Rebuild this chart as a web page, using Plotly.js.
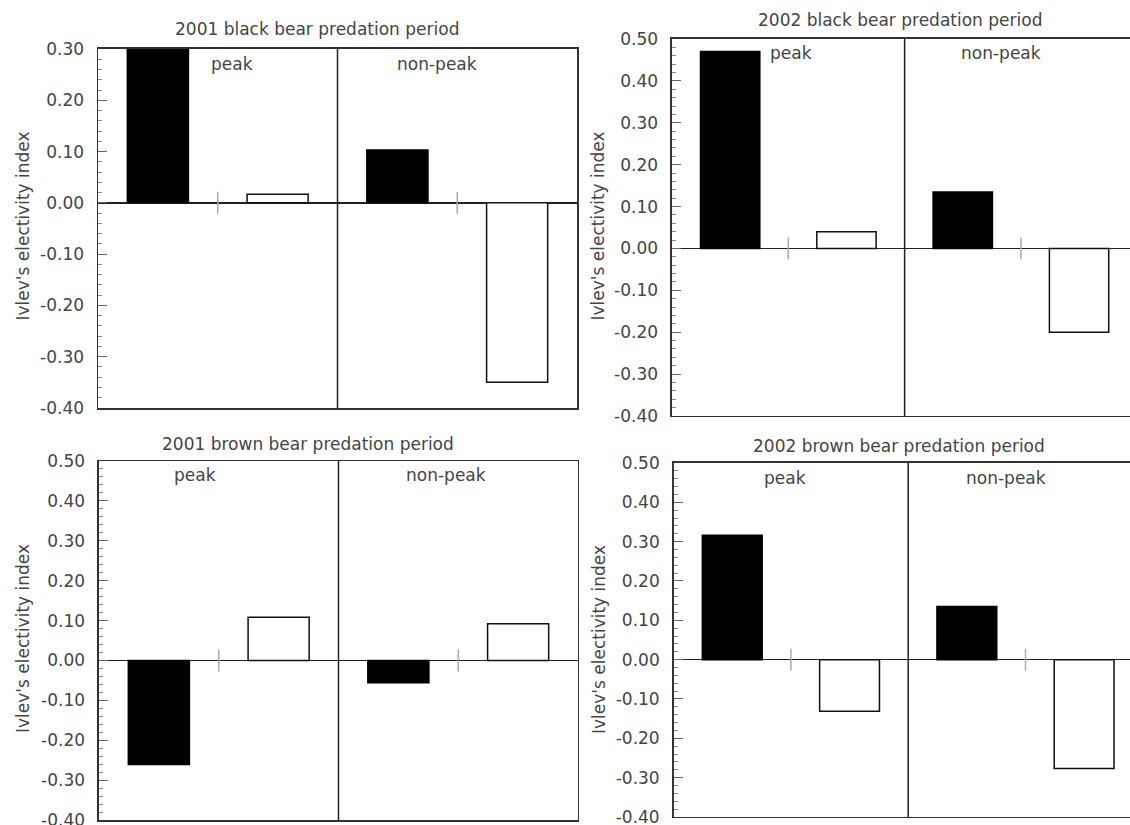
<!DOCTYPE html>
<html>
<head>
<meta charset="utf-8">
<script src="https://cdn.plot.ly/plotly-3.0.1.min.js"></script>
<style>html,body{margin:0;padding:0;background:#fff;}#chart{width:1130px;height:825px;}</style>
</head>
<body>
<div id="chart"></div>
<script>
// ---- data ----
const panelTitles = [
  "2001 black bear predation period",
  "2002 black bear predation period",
  "2001 brown bear predation period",
  "2002 brown bear predation period"
];
const yAxisTitle = "Ivlev's electivity index";
const periodLabels = ["peak", "non-peak"];
// bar positions: black bar and white bar in each period (peak, non-peak)
const blackX = [0.5, 2.5];
const whiteX = [1.5, 3.5];
// values [peak, non-peak]
const black2001Black = [0.30, 0.103];
const white2001Black = [0.017, -0.350];
const black2002Black = [0.470, 0.135];
const white2002Black = [0.040, -0.200];
const black2001Brown = [-0.261, -0.056];
const white2001Brown = [0.108, 0.092];
const black2002Brown = [0.316, 0.135];
const white2002Brown = [-0.131, -0.277];

const yTicksA = [-0.4, -0.3, -0.2, -0.1, 0, 0.1, 0.2, 0.3];
const yTickTextA = ["-0.40", "-0.30", "-0.20", "-0.10", "0.00", "0.10", "0.20", "0.30"];
const yTicksB = [-0.4, -0.3, -0.2, -0.1, 0, 0.1, 0.2, 0.3, 0.4, 0.5];
const yTickTextB = ["-0.40", "-0.30", "-0.20", "-0.10", "0.00", "0.10", "0.20", "0.30", "0.40", "0.50"];
const periodDividers = [2];
const zeroTicks = [1, 3];

// ---- build ----
const FONT = "DejaVu Sans, Liberation Sans, Arial, sans-serif";
const TXT = "#444";
const panels = [
  {b: black2001Black, w: white2001Black, xr: [0, 4], yr: [-0.4, 0.3], tv: yTicksA, tt: yTickTextA,
   xd: [0.08673, 0.51062], yd: [0.50545, 0.94061], mirrorY: true,
   title: [0.2801, 0.9648], ytitle: [0.0204, 0.7255], lab: [1.12, 2.835], labY: 0.958},
  {b: black2002Black, w: white2002Black, xr: [0, 3.938], yr: [-0.4, 0.5], tv: yTicksB, tt: yTickTextB,
   xd: [0.59469, 1.0], yd: [0.49576, 0.95273], mirrorY: false,
   title: [0.7961, 0.9758], ytitle: [0.5296, 0.726], lab: [1.027, 2.832], labY: 0.963},
  {b: black2001Brown, w: white2001Brown, xr: [0, 4], yr: [-0.4, 0.5], tv: yTicksB, tt: yTickTextB,
   xd: [0.08761, 0.51150], yd: [0.00606, 0.44121], mirrorY: true,
   title: [0.2726, 0.4618], ytitle: [0.0204, 0.2255], lab: [0.80, 2.896], labY: 0.962},
  {b: black2002Brown, w: white2002Brown, xr: [0, 3.891], yr: [-0.4, 0.5], tv: yTicksB, tt: yTickTextB,
   xd: [0.59611, 1.0], yd: [0.00970, 0.43879], mirrorY: false,
   title: [0.7960, 0.4600], ytitle: [0.5296, 0.2248], lab: [0.95, 2.834], labY: 0.957}
];

const data = [];
const layout = {
  width: 1130, height: 825,
  margin: {l: 0, r: 0, t: 0, b: 0},
  paper_bgcolor: "#fff", plot_bgcolor: "#fff",
  showlegend: false,
  font: {family: FONT, size: 17, color: TXT},
  bargap: 0,
  shapes: [], annotations: []
};

panels.forEach((p, i) => {
  const n = i === 0 ? "" : String(i + 1);
  const xa = "x" + n, ya = "y" + n;
  data.push({type: "bar", x: blackX, y: p.b, xaxis: xa, yaxis: ya, width: 0.51,
    marker: {color: "#000", line: {color: "#000", width: 1.5}}, hoverinfo: "skip"});
  data.push({type: "bar", x: whiteX, y: p.w, xaxis: xa, yaxis: ya, width: 0.51,
    marker: {color: "#fff", line: {color: "#111", width: 1.5}}, hoverinfo: "skip"});
  layout["xaxis" + n] = {
    domain: p.xd, range: p.xr, anchor: ya, showticklabels: false, ticks: "",
    showgrid: false, zeroline: false, showline: true, mirror: true,
    linecolor: "#333", linewidth: 1.5, fixedrange: true
  };
  layout["yaxis" + n] = {
    domain: p.yd, range: p.yr, anchor: xa, tickvals: p.tv, ticktext: p.tt,
    ticks: "inside", ticklen: 9, tickwidth: 1, tickcolor: "#666",
    minor: {dtick: 0.02, tick0: 0, ticks: "inside", ticklen: 4, tickwidth: 1, tickcolor: "#888", showgrid: false},
    ticklabelstandoff: 9, ticklabeloverflow: "allow",
    tickfont: {family: FONT, size: 17, color: TXT},
    showgrid: false, zeroline: true, zerolinecolor: "#222", zerolinewidth: 1.5,
    showline: true, mirror: p.mirrorY, linecolor: "#333", linewidth: 1.5, fixedrange: true
  };
  periodDividers.forEach(d => layout.shapes.push({
    type: "line", xref: xa, yref: ya + " domain", x0: d, x1: d, y0: 0, y1: 1,
    line: {color: "#222", width: 1.5}
  }));
  zeroTicks.forEach(t => layout.shapes.push({
    type: "line", xref: xa, yref: ya, ysizemode: "pixel", yanchor: 0,
    x0: t, x1: t, y0: -11, y1: 11, line: {color: "#aaa", width: 1.5}
  }));
  layout.annotations.push({
    text: panelTitles[i], xref: "paper", yref: "paper", x: p.title[0], y: p.title[1],
    xanchor: "center", yanchor: "middle", showarrow: false,
    font: {family: FONT, size: 17, color: TXT}
  });
  layout.annotations.push({
    text: yAxisTitle, xref: "paper", yref: "paper", x: p.ytitle[0], y: p.ytitle[1],
    xanchor: "center", yanchor: "middle", textangle: -90, showarrow: false,
    font: {family: FONT, size: 17, color: TXT}
  });
  periodLabels.forEach((lab, k) => layout.annotations.push({
    text: lab, xref: xa, yref: ya + " domain", x: p.lab[k], y: p.labY,
    xanchor: "center", yanchor: "middle", showarrow: false,
    font: {family: FONT, size: 17, color: TXT}
  }));
});

Plotly.newPlot("chart", data, layout, {displayModeBar: false, staticPlot: true});
</script>
</body>
</html>
